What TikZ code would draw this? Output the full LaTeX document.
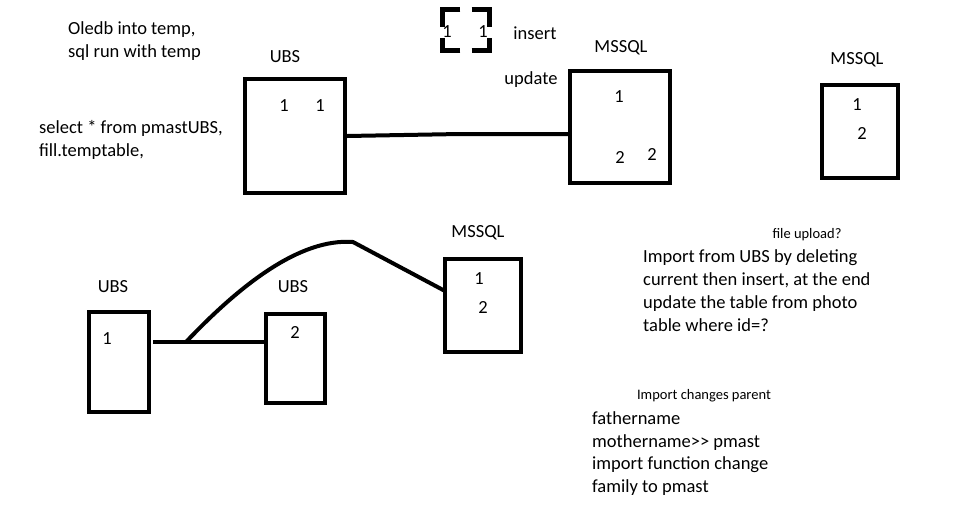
\documentclass[tikz,border=0pt]{standalone}
\usepackage{fontspec}
\setmainfont{Carlito}
\begin{document}
\begin{tikzpicture}[
		x=1pt, y=-1pt,
		box/.style={draw, line width=4pt, inner sep=0pt},
		wire/.style={line width=4pt},
		note/.style={font=\fontsize{18.5}{22.7}\selectfont, inner sep=0pt, align=left},
		tiny/.style={font=\fontsize{14.5}{16}\selectfont, inner sep=0pt},
		num/.style={font=\fontsize{18.5}{20}\selectfont, inner sep=0pt}
	]
	\useasboundingbox[fill=white] (0,0) rectangle (963,523);
	% top half
	\node[note, anchor=base west] (oledb) at (68,57) {Oledb into temp,\\sql run with temp};
	\node[note, anchor=base west] (select) at (39,156) {select * from pmastUBS,\\fill.temptable,};
	\node[note] (ubsAlbl) at (285,57) {UBS};
	\node[box, minimum width=100, minimum height=114] (ubsA) at (295,136) {};
	\node[num] (ubsAa) at (284,106) {1};
	\node[num] (ubsAb) at (320,106) {1};
	\node[minimum width=47, minimum height=41, inner sep=0pt] (brk) at (466,30) {};
	\draw[line width=5pt]
		([xshift=18]brk.north west) -- (brk.north west) -- ([yshift=-18]brk.north west)
		([xshift=-18]brk.north east) -- (brk.north east) -- ([yshift=-18]brk.north east)
		([xshift=18]brk.south west) -- (brk.south west) -- ([yshift=13]brk.south west)
		([xshift=-18]brk.south east) -- (brk.south east) -- ([yshift=13]brk.south east);
	\node[num] (brka) at (447,32) {1};
	\node[num] (brkb) at (483,32) {1};
	\node[note] (insert) at (535,33) {insert};
	\node[note] (update) at (531,80) {update};
	\node[note] (msAlbl) at (621,48) {MSSQL};
	\node[box, minimum width=100, minimum height=112] (msA) at (620,127) {};
	\node[num] (msAa) at (619,97) {1};
	\node[num] (msAb) at (620,157) {2};
	\node[num] (msAc) at (652,154) {2};
	\coordinate (kA) at (460,134);
	\draw[wire] (ubsA.east) -- (kA) -- (kA -| msA.west);
	\node[note] (msBlbl) at (857,60) {MSSQL};
	\node[box, minimum width=76, minimum height=93] (msB) at (860,131.5) {};
	\node[num] (msBa) at (857,105) {1};
	\node[num] (msBb) at (862,133) {2};
	% bottom half
	\node[note] (ubsBlbl) at (113,287) {UBS};
	\node[box, minimum width=60, minimum height=100] (ubsB) at (119,362) {};
	\node[num] (ubsBa) at (107,339) {1};
	\node[note] (ubsClbl) at (293,287) {UBS};
	\node[box, minimum width=59, minimum height=89] (ubsC) at (295.5,358.5) {};
	\node[num] (ubsCa) at (295,332) {2};
	\node[note] (msClbl) at (478,233) {MSSQL};
	\node[box, minimum width=76, minimum height=93] (msC) at (483,305.5) {};
	\node[num] (msCa) at (479,279) {1};
	\node[num] (msCb) at (483,307) {2};
	\coordinate (fork) at (186,342);
	\coordinate (peak) at (353,242);
	\coordinate (msCin) at (445,291);
	\draw[wire] ([xshift=2]ubsB.east |- fork) -- (fork) -- (fork -| ubsC.west);
	\draw[wire] (fork) .. controls (240,285) and (300,238) .. (peak) -- (msCin);
	\node[tiny] (upload) at (807,235) {file upload?};
	\node[note, anchor=base west] (import) at (643,331) {Import from UBS by deleting\\current then insert, at the end\\update the table from photo\\table where id=?};
	\node[tiny] (parent) at (704,396) {Import changes parent};
	\node[note, anchor=base west] (father) at (592,492.5) {fathername\\mothername>{}> pmast\\import function change\\family to pmast};
\end{tikzpicture}
\end{document}
